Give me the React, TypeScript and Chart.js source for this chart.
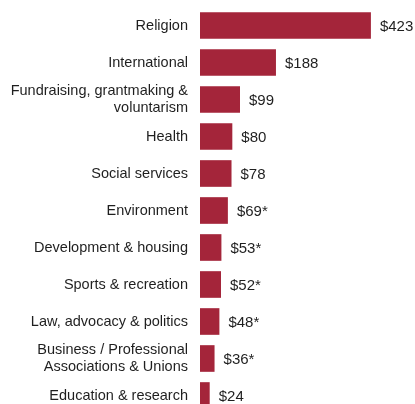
import React, { useEffect, useRef } from "react";
import { Chart, registerables } from "chart.js";

Chart.register(...registerables);

const categories: (string | string[])[] = [
  "Religion",
  "International",
  ["Fundraising, grantmaking &", "voluntarism"],
  "Health",
  "Social services",
  "Environment",
  "Development & housing",
  "Sports & recreation",
  "Law, advocacy & politics",
  ["Business / Professional", "Associations & Unions"],
  "Education & research",
];

const values: number[] = [423, 188, 99, 80, 78, 69, 53, 52, 48, 36, 24];

const valueLabels: string[] = [
  "$423", "$188", "$99", "$80", "$78", "$69*", "$53*", "$52*", "$48*", "$36*", "$24",
];

const FONT = '"Liberation Sans", Arial, Helvetica, sans-serif';
const BAR_COLOR = "#A4253A";
const TEXT_COLOR = "#1f1f1f";

const valueLabelPlugin = {
  id: "valueLabels",
  afterDatasetsDraw(chart: any) {
    const ctx = chart.ctx;
    const meta = chart.getDatasetMeta(0);
    ctx.save();
    ctx.font = `15px ${FONT}`;
    ctx.fillStyle = TEXT_COLOR;
    ctx.textAlign = "left";
    ctx.textBaseline = "middle";
    meta.data.forEach((bar: any, i: number) => {
      ctx.fillText(valueLabels[i], bar.x + 9, bar.y + 1);
    });
    ctx.restore();
  },
};

export default function App() {
  const canvasRef = useRef<HTMLCanvasElement | null>(null);

  useEffect(() => {
    if (!canvasRef.current) return;
    const chart = new Chart(canvasRef.current, {
      type: "bar",
      data: {
        labels: categories,
        datasets: [
          {
            data: values,
            backgroundColor: BAR_COLOR,
            borderWidth: 0,
            categoryPercentage: 1,
            barPercentage: 0.72,
          },
        ],
      },
      options: {
        indexAxis: "y",
        animation: false,
        responsive: false,
        devicePixelRatio: 1,
        layout: { padding: { top: 7, right: 15, bottom: 0, left: 0 } },
        plugins: {
          legend: { display: false },
          tooltip: { enabled: false },
        },
        scales: {
          x: {
            display: false,
            min: 0,
            max: 495,
          },
          y: {
            grid: { display: false, drawTicks: false },
            border: { display: false },
            ticks: {
              autoSkip: false,
              padding: 12,
              color: TEXT_COLOR,
              font: { family: FONT, size: 14.5, lineHeight: 1.15 },
            },
            afterFit: (scale: any) => {
              scale.width = 200;
              scale.paddingTop = 0;
              scale.paddingBottom = 0;
            },
          },
        },
      },
      plugins: [valueLabelPlugin],
    });
    return () => chart.destroy();
  }, []);

  return (
    <div
      style={{
        position: "fixed",
        left: 0,
        top: 0,
        width: 415,
        height: 404,
        overflow: "hidden",
        background: "#fff",
      }}
    >
      <canvas ref={canvasRef} width={415} height={414} style={{ display: "block" }} />
    </div>
  );
}
